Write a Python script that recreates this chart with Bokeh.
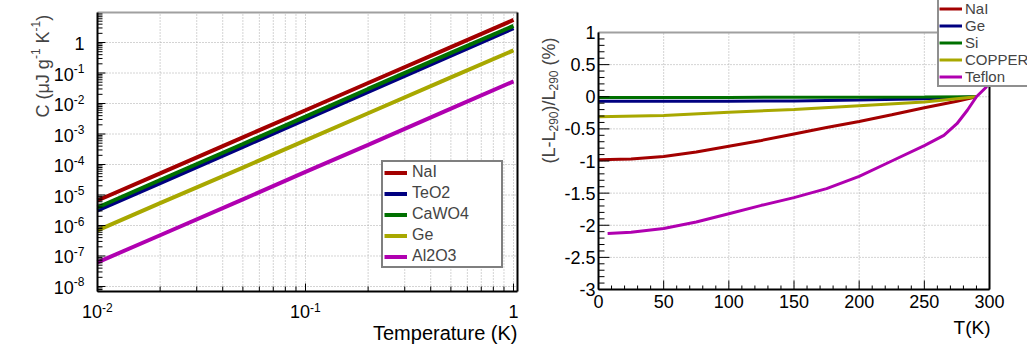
from bokeh.plotting import figure
from bokeh.layouts import row
from bokeh.core.properties import value
from bokeh.models import (ColumnDataSource, LabelSet, Label, Legend, LegendItem, Range1d)
from bokeh.embed import file_html
from bokeh.resources import INLINE

FONT = "Liberation Sans"
NBSP = "\u00a0"

# ---------------- left panel: heat capacity vs temperature ----------------
temp_k = [0.01, 0.02, 0.05, 0.1, 0.2, 0.5, 1.0]
c_nai = [6.6e-6, 5.1e-5, 7.8e-4, 6.0e-3, 0.047, 0.71, 5.5]
c_teo2 = [3.1e-6, 2.45e-5, 3.8e-4, 3.0e-3, 0.024, 0.37, 2.95]
c_cawo4 = [3.9e-6, 3.1e-5, 4.7e-4, 3.7e-3, 0.030, 0.46, 3.5]
c_ge = [6.9e-7, 5.4e-6, 7.9e-5, 6.2e-4, 4.8e-3, 0.072, 0.55]
c_al2o3 = [6.2e-8, 4.8e-7, 7.2e-6, 5.7e-5, 4.4e-4, 6.8e-3, 0.053]

cap_decades = [0, -1, -2, -3, -4, -5, -6, -7, -8]
temp_decades = [-2, -1, 0]

# ---------------- right panel: relative length change ----------------
t_nai = [0, 25, 50, 75, 100, 125, 150, 175, 200, 225, 250, 275, 290]
dl_nai = [-0.98, -0.97, -0.93, -0.86, -0.77, -0.68, -0.58, -0.48, -0.385, -0.28, -0.17, -0.07, 0.0]
t_flat = [0, 50, 100, 150, 200, 250, 290]
dl_ge = [-0.07, -0.07, -0.07, -0.065, -0.05, -0.03, 0.0]
dl_si = [-0.01, -0.01, -0.01, -0.008, -0.006, -0.004, 0.0]
dl_cu = [-0.31, -0.29, -0.24, -0.20, -0.14, -0.08, 0.0]
t_teflon = [7, 25, 50, 75, 100, 125, 150, 175, 200, 225, 250, 265, 275, 283, 290, 298]
dl_teflon = [-2.13, -2.11, -2.05, -1.95, -1.82, -1.69, -1.57, -1.43, -1.24, -1.0, -0.76,
             -0.60, -0.42, -0.21, 0.0, 0.16]

dl_ticks = [1, 0.5, 0, -0.5, -1, -1.5, -2, -2.5, -3]
dl_tick_labels = ["1", "0.5", "0", "-0.5", "-1", "-1.5", "-2", "-2.5", "-3"]
t_ticks = [0, 50, 100, 150, 200, 250, 300]
t_tick_labels = ["0", "50", "100", "150", "200", "250", "300"]

COL_RED = "#a30000"
COL_NAVY = "#000080"
COL_GREEN = "#007000"
COL_OLIVE = "#a8a800"
COL_MAGENTA = "#b000b0"
GRID = "#a8a8a8"
FRAME_TOP = "#a0a0a0"

H = 344

# ---- pixel layout of the left panel (canvas 525 wide) ----
W1 = 525
L1, R1, T1, B1 = 97, 517, 12, 291
X_DEC_PX = 208.0                      # pixels per decade of temperature
Y_DEC_PX = 279.0 / 9.148              # pixels per decade of heat capacity


def lx(px):
    return 10 ** (-2 + (px - L1) / X_DEC_PX)


def ly(py):
    return 10 ** (0.984 - (py - T1) / Y_DEC_PX)


T_MIN, T_MAX = lx(L1), lx(R1)
C_MIN, C_MAX = ly(B1), ly(T1)

# ---- pixel layout of the right panel (canvas 502 wide) ----
W2 = 502
L2, R2, T2, B2 = 73, 464, 32, 289
X_PX_PER_K = (R2 - L2) / 300.0
Y_PX_PER_UNIT = (B2 - T2) / 4.0


def rx(px):
    return (px - L2) / X_PX_PER_K


def ry(py):
    return 1 - (py - T2) / Y_PX_PER_UNIT


def labels(p, xs, ys, texts, size, align, baseline, x_off=0, y_off=0):
    src = ColumnDataSource(dict(x=xs, y=ys, t=texts))
    p.add_layout(LabelSet(x="x", y="y", text="t", source=src, x_offset=x_off, y_offset=y_off,
                          text_font=value(FONT), text_font_size=value(size),
                          text_align=align, text_baseline=baseline, text_color="black"))


def bare_figure(width, x_range, y_range, axis_type):
    p = figure(width=width, height=H, x_range=x_range, y_range=y_range,
               x_axis_type=axis_type, y_axis_type=axis_type,
               x_axis_location=None, y_axis_location=None,
               output_backend="svg", toolbar_location=None, min_border=0)
    p.min_border_left = p.min_border_right = p.min_border_top = p.min_border_bottom = 0
    p.outline_line_color = None
    p.background_fill_color = "white"
    p.border_fill_color = "white"
    p.xgrid.visible = False
    p.ygrid.visible = False
    return p


# ======================= left figure =======================
p1 = bare_figure(W1, Range1d(lx(0), lx(W1)), Range1d(ly(H), ly(0)), "log")

x_major = [10.0 ** e for e in temp_decades]
x_minor = [k * 10.0 ** e for e in temp_decades for k in range(2, 10) if k * 10.0 ** e <= T_MAX]
y_major = [10.0 ** e for e in cap_decades]
y_minor = [k * 10.0 ** e for e in range(-9, 1) for k in range(2, 10)
           if C_MIN <= k * 10.0 ** e <= C_MAX]

# dotted grid: every x tick, every y decade
xg = [v for v in x_major + x_minor if T_MIN * 1.001 < v < T_MAX]
p1.segment(xg, [C_MIN] * len(xg), xg, [C_MAX] * len(xg),
           line_color=GRID, line_dash="1 2", line_width=1)
yg = [v for v in y_major if C_MIN < v < C_MAX]
p1.segment([T_MIN] * len(yg), yg, [T_MAX] * len(yg), yg,
           line_color=GRID, line_dash="1 2", line_width=1)

r_nai = p1.line(temp_k, c_nai, line_color=COL_RED, line_width=4)
r_teo2 = p1.line(temp_k, c_teo2, line_color=COL_NAVY, line_width=4)
r_cawo4 = p1.line(temp_k, c_cawo4, line_color=COL_GREEN, line_width=4)
r_ge = p1.line(temp_k, c_ge, line_color=COL_OLIVE, line_width=4)
r_al2o3 = p1.line(temp_k, c_al2o3, line_color=COL_MAGENTA, line_width=4)

# inward ticks
for vals, ln in ((y_major, 8), (y_minor, 5)):
    p1.segment([T_MIN] * len(vals), vals, [lx(L1 + ln)] * len(vals), vals,
               line_color="black", line_width=1)
for vals, ln in ((x_major, 8), (x_minor, 5)):
    p1.segment(vals, [C_MIN] * len(vals), vals, [ly(B1 - ln)] * len(vals),
               line_color="black", line_width=1)

# frame
p1.segment([T_MIN], [C_MAX], [T_MAX], [C_MAX], line_color=FRAME_TOP, line_width=2)
p1.segment([T_MIN, T_MIN, T_MAX], [C_MIN, C_MIN, C_MIN], [T_MIN, T_MAX, T_MAX],
           [C_MAX, C_MIN, C_MAX], line_color="black", line_width=2)

leg1 = Legend(items=[LegendItem(label="NaI", renderers=[r_nai]),
                     LegendItem(label="TeO2", renderers=[r_teo2]),
                     LegendItem(label="CaWO4", renderers=[r_cawo4]),
                     LegendItem(label="Ge", renderers=[r_ge]),
                     LegendItem(label="Al2O3", renderers=[r_al2o3])],
              location=(381, H - 268), margin=0, padding=1, spacing=3,
              label_height=17, glyph_height=17, glyph_width=23, label_standoff=5,
              label_width=88, label_text_font=FONT, label_text_font_size="16px",
              border_line_color="black", border_line_width=2,
              background_fill_color="white", background_fill_alpha=1.0)
p1.add_layout(leg1)

# y tick labels: 1, 10^-1 ... 10^-8
SUP_W = 10.7
labels(p1, [T_MIN], [1.0], ["1"], "18px", "right", "middle", x_off=-13, y_off=-1)
neg = [e for e in cap_decades if e != 0]
labels(p1, [T_MIN] * len(neg), [10.0 ** e for e in neg], ["10"] * len(neg), "18px",
       "right", "middle", x_off=-13 - SUP_W, y_off=-1)
labels(p1, [T_MIN] * len(neg), [10.0 ** e for e in neg], [str(e) for e in neg], "12px",
       "right", "alphabetic", x_off=-13, y_off=0)

# x tick labels: 10^-2, 10^-1, 1
negx = [e for e in temp_decades if e != 0]
labels(p1, [10.0 ** e for e in negx], [C_MIN] * len(negx), ["10"] * len(negx), "18px",
       "left", "middle", x_off=-15.4, y_off=-20)
labels(p1, [10.0 ** e for e in negx], [C_MIN] * len(negx), [str(e) for e in negx], "12px",
       "left", "alphabetic", x_off=4.6, y_off=-20)
labels(p1, [1.0], [C_MIN], ["1"], "18px", "center", "middle", y_off=-20)

labels(p1, [T_MAX], [C_MIN], ["Temperature (K)"], "20px", "right", "middle", y_off=-41)

# rotated y title: C (μJ g^-1 K^-1)
title_parts = [("C (\u03bcJ g", "18px", 58.4, 0), ("-1", "12px", 10.7, -7),
               (NBSP + "K", "18px", 17.0, 0), ("-1", "12px", 10.7, -7), (")", "18px", 6.0, 0)]
pos = -105.0
for txt, size, w, shift in title_parts:
    p1.add_layout(Label(x=T_MIN, y=C_MAX, text=txt, x_offset=-55 + shift, y_offset=pos,
                        angle=1.5707963, text_font=FONT, text_font_size=size,
                        text_align="left", text_baseline="alphabetic"))
    pos += w

# ======================= right figure =======================
p2 = bare_figure(W2, Range1d(rx(0), rx(W2)), Range1d(ry(H), ry(0)), "linear")

X0, X1, Y0, Y1 = 0, 300, -3, 1
gx = [v for v in t_ticks if X0 < v < X1]
p2.segment(gx, [Y0] * len(gx), gx, [Y1] * len(gx), line_color=GRID, line_dash="1 2", line_width=1)
gy = [v for v in dl_ticks if Y0 < v < Y1]
p2.segment([X0] * len(gy), gy, [X1] * len(gy), gy, line_color=GRID, line_dash="1 2", line_width=1)

q_nai = p2.line(t_nai, dl_nai, line_color=COL_RED, line_width=3)
q_ge = p2.line(t_flat, dl_ge, line_color=COL_NAVY, line_width=3)
q_si = p2.line(t_flat, dl_si, line_color=COL_GREEN, line_width=3)
q_cu = p2.line(t_flat, dl_cu, line_color=COL_OLIVE, line_width=3)
q_tef = p2.line(t_teflon, dl_teflon, line_color=COL_MAGENTA, line_width=3)

minor_t = [v for v in range(0, 301, 10) if v not in t_ticks]
minor_dl = [round(-3 + 0.1 * i, 1) for i in range(41)]
minor_dl = [v for v in minor_dl if v not in dl_ticks]
for vals, ln in ((dl_ticks, 11), (minor_dl, 6)):
    p2.segment([X0] * len(vals), vals, [rx(L2 + ln)] * len(vals), vals,
               line_color="black", line_width=1)
for vals, ln in ((t_ticks, 9), (minor_t, 4)):
    p2.segment(vals, [Y0] * len(vals), vals, [ry(B2 - ln)] * len(vals),
               line_color="black", line_width=1)

p2.segment([X0], [Y1], [X1], [Y1], line_color=FRAME_TOP, line_width=2)
p2.segment([X0, X0, X1], [Y0, Y0, Y0], [X0, X1, X1], [Y1, Y0, Y1],
           line_color="black", line_width=2)

leg2 = Legend(items=[LegendItem(label="NaI", renderers=[q_nai]),
                     LegendItem(label="Ge", renderers=[q_ge]),
                     LegendItem(label="Si", renderers=[q_si]),
                     LegendItem(label="COPPER", renderers=[q_cu]),
                     LegendItem(label="Teflon", renderers=[q_tef])],
              location=(412, H - 87), margin=0, padding=0, spacing=0,
              label_height=15, glyph_height=15, glyph_width=23, label_standoff=3,
              label_width=75, label_text_font=FONT, label_text_font_size="15px",
              border_line_color="#202020", border_line_width=2,
              background_fill_color="white", background_fill_alpha=1.0)
p2.add_layout(leg2)

labels(p2, [X0] * len(dl_ticks), dl_ticks, dl_tick_labels, "18px", "right", "middle", x_off=-3)
labels(p2, t_ticks, [Y0] * len(t_ticks), t_tick_labels, "18px", "center", "middle", y_off=-12)
labels(p2, [X1], [Y0], ["T(K)"], "19px", "right", "middle", x_off=1, y_off=-38)

# rotated y title: (L-L_290)/L_290 (%)
dl_parts = [("(L-L", "18px", 32.0, 0), ("290", "12px", 20.0, 5),
            (")/L", "18px", 21.0, 0), ("290", "12px", 20.0, 5), (NBSP + "(%)", "18px", 33.0, 0)]
pos = -131.0
for txt, size, w, shift in dl_parts:
    p2.add_layout(Label(x=X0, y=Y1, text=txt, x_offset=-50 + shift, y_offset=pos,
                        angle=1.5707963, text_font=FONT, text_font_size=size,
                        text_align="left", text_baseline="alphabetic"))
    pos += w

layout = row(p1, p2)
open("out.html", "w").write(file_html(layout, INLINE))
